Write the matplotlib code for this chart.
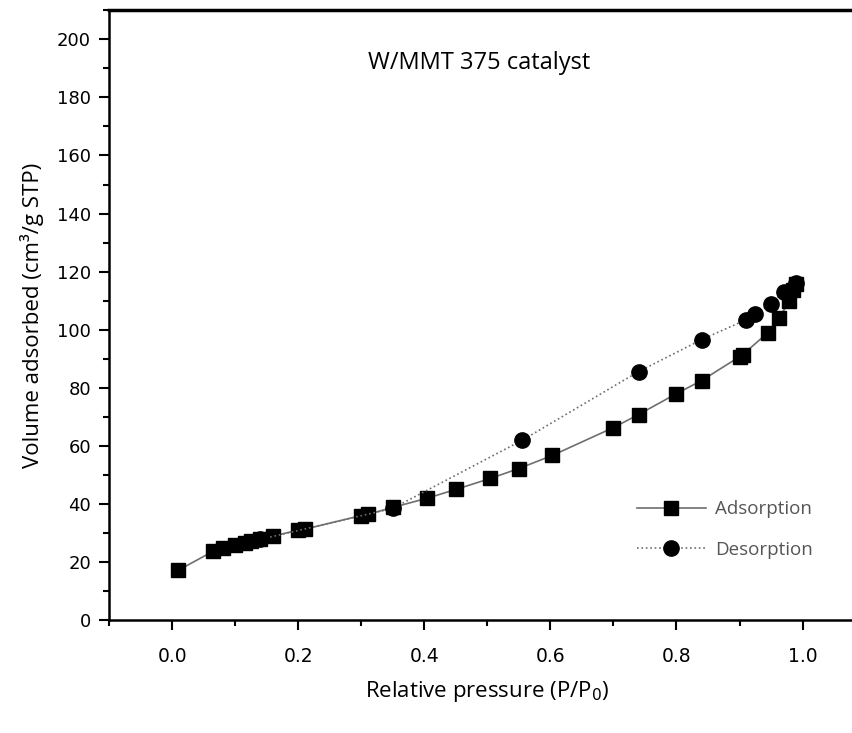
import numpy as np
import matplotlib
matplotlib.use('Agg')
import matplotlib.pyplot as plt
from matplotlib.ticker import MultipleLocator

# Adsorption branch (squares)
ads_p = [0.010, 0.065, 0.080, 0.100, 0.115, 0.125, 0.140, 0.160, 0.200, 0.210,
         0.300, 0.310, 0.350, 0.405, 0.450, 0.505, 0.550, 0.603, 0.700, 0.740,
         0.800, 0.840, 0.900, 0.905, 0.945, 0.963, 0.979, 0.985, 0.990]
ads_v = [17.2, 23.7, 24.7, 25.8, 26.5, 27.1, 27.8, 28.9, 31.0, 31.3,
         36.0, 36.4, 38.8, 42.0, 45.0, 48.8, 52.2, 56.7, 66.3, 70.8,
         78.0, 82.5, 90.7, 91.4, 99.0, 104.0, 110.0, 113.7, 115.8]

# Desorption branch (circles)
des_p = [0.990, 0.970, 0.950, 0.925, 0.910, 0.840, 0.740, 0.555, 0.350, 0.140]
des_v = [116.1, 113.0, 109.0, 105.5, 103.4, 96.6, 85.6, 61.9, 38.5, 27.8]

plt.rcParams['font.family'] = ['Open Sans', 'DejaVu Sans']

fig = plt.figure(figsize=(8.52, 7.33), dpi=100)
ax = fig.add_axes([0.128, 0.154, 0.888, 0.832])

ax.plot(ads_p, ads_v, '-', color='#6e6e6e', lw=1.2, marker='s', ms=10,
        mfc='black', mec='black', label='Adsorption', zorder=3)
ax.plot(des_p, des_v, ':', color='#6e6e6e', lw=1.2, marker='o', ms=11,
        mfc='black', mec='black', label='Desorption', zorder=4)

ax.set_xlim(-0.1, 1.1)
ax.set_ylim(0, 210)
ax.xaxis.set_minor_locator(MultipleLocator(0.1))
ax.yaxis.set_major_locator(MultipleLocator(20))
ax.yaxis.set_minor_locator(MultipleLocator(10))
ax.set_xticks(np.arange(0, 1.01, 0.2))
ax.set_xticklabels(['0.0', '0.2', '0.4', '0.6', '0.8', '1.0'])

ax.tick_params(axis='both', which='major', direction='out', length=7, width=1.5)
ax.tick_params(axis='both', which='minor', direction='out', length=4, width=1.5)
ax.tick_params(axis='x', pad=12)
ax.tick_params(axis='y', pad=6)
for lab in ax.get_yticklabels():
    lab.set_family('DejaVu Sans')
    lab.set_fontsize(13)
for lab in ax.get_xticklabels():
    lab.set_family('DejaVu Sans')
    lab.set_fontsize(13.5)

for s in ['left', 'bottom']:
    ax.spines[s].set_linewidth(1.8)
ax.spines['top'].set_linewidth(2.5)
ax.spines['right'].set_linewidth(1.8)

ax.set_xlabel('Relative pressure (P/P$_0$)', fontsize=16, labelpad=10)
ax.set_ylabel('Volume adsorbed (cm³/g STP)', fontsize=16, labelpad=9)

ax.text(0.489, 0.913, 'W/MMT 375 catalyst', transform=ax.transAxes,
        fontsize=17, ha='center', va='center')

leg = ax.legend(loc='lower left', bbox_to_anchor=(0.675, 0.073), frameon=False,
                fontsize=13.5, handlelength=3.7, labelspacing=1.2,
                handletextpad=0.5)
for t in leg.get_texts():
    t.set_color('#555555')

fig.savefig('out.png', dpi=100)
